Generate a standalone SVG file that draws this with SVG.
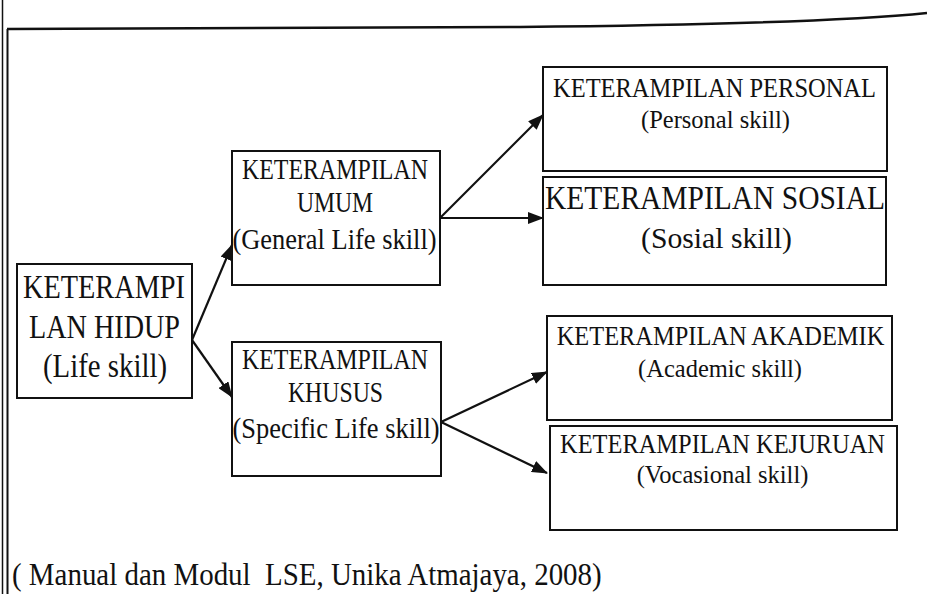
<svg xmlns="http://www.w3.org/2000/svg" width="927" height="594" viewBox="0 0 927 594">
<style>
.box{fill:#fff;stroke:#111;stroke-width:2}
.t text{font-family:'Liberation Serif','Times New Roman',serif;fill:#111;text-anchor:middle}
.con{stroke:#111;stroke-width:2.2;fill:none}
.frame{stroke:#111;fill:none}
</style>
<defs>
<marker id="arrow" viewBox="0 0 16 12" refX="15" refY="6" markerWidth="16" markerHeight="12" markerUnits="userSpaceOnUse" orient="auto">
<path d="M0,0 L16,6 L0,12 Z" fill="#111"/>
</marker>
</defs>
<rect width="927" height="594" fill="#fff"/>
<g id="frame">
<line class="frame" x1="2.5" y1="0" x2="2.5" y2="594" stroke-width="1.5"/>
<line class="frame" x1="7.5" y1="29" x2="7.5" y2="594" stroke-width="2"/>
<path class="frame" d="M7,29 L520,27 Q820,24 927,13" stroke-width="2.5"/>
</g>
<g id="connectors">
<line class="con" x1="192" y1="340" x2="232" y2="245" marker-end="url(#arrow)"/>
<line class="con" x1="192" y1="340" x2="232" y2="397" marker-end="url(#arrow)"/>
<line class="con" x1="440" y1="218" x2="543" y2="115" marker-end="url(#arrow)"/>
<line class="con" x1="440" y1="218" x2="543" y2="218" marker-end="url(#arrow)"/>
<line class="con" x1="441" y1="422" x2="547" y2="372" marker-end="url(#arrow)"/>
<line class="con" x1="441" y1="422" x2="547" y2="473" marker-end="url(#arrow)"/>
</g>
<g id="life" class="t">
<rect class="box" x="17" y="264" width="175" height="134"/>
<text font-size="33" transform="translate(104,298) scale(0.858,1)">KETERAMPI</text>
<text font-size="33" transform="translate(104.5,338) scale(0.854,1)">LAN HIDUP</text>
<text font-size="33" transform="translate(105,377) scale(0.873,1)">(Life skill)</text>
</g>
<g id="umum" class="t">
<rect class="box" x="232" y="151" width="208" height="134"/>
<text font-size="29" transform="translate(335,179) scale(0.825,1)">KETERAMPILAN</text>
<text font-size="29" transform="translate(335,212) scale(0.815,1)">UMUM</text>
<text font-size="29" transform="translate(334.5,249) scale(0.912,1)">(General Life skill)</text>
</g>
<g id="khusus" class="t">
<rect class="box" x="232" y="342" width="209" height="134"/>
<text font-size="29" transform="translate(335,369) scale(0.825,1)">KETERAMPILAN</text>
<text font-size="29" transform="translate(335.5,402) scale(0.82,1)">KHUSUS</text>
<text font-size="29" transform="translate(336,438) scale(0.912,1)">(Specific Life skill)</text>
</g>
<g id="personal" class="t">
<rect class="box" x="543" y="67" width="344" height="104"/>
<text font-size="27" transform="translate(714.5,97) scale(0.907,1)">KETERAMPILAN PERSONAL</text>
<text font-size="25" transform="translate(715.5,128) scale(0.98,1)">(Personal skill)</text>
</g>
<g id="sosial" class="t">
<rect class="box" x="543" y="177" width="343" height="108"/>
<text font-size="33" transform="translate(715,209) scale(0.894,1)">KETERAMPILAN SOSIAL</text>
<text font-size="30" transform="translate(716.5,248) scale(0.99,1)">(Sosial skill)</text>
</g>
<g id="akademik" class="t">
<rect class="box" x="547" y="316" width="345" height="104"/>
<text font-size="27" transform="translate(720.5,345) scale(0.905,1)">KETERAMPILAN AKADEMIK</text>
<text font-size="25" transform="translate(720,377) scale(0.98,1)">(Academic skill)</text>
</g>
<g id="kejuruan" class="t">
<rect class="box" x="550" y="426" width="347" height="104"/>
<text font-size="27" transform="translate(722.5,453) scale(0.905,1)">KETERAMPILAN KEJURUAN</text>
<text font-size="25" transform="translate(722.5,483) scale(0.98,1)">(Vocasional skill)</text>
</g>
<g id="caption" class="t">
<text font-size="32" style="text-anchor:start" transform="translate(12,585) scale(0.904,1)" xml:space="preserve">( Manual dan Modul  LSE, Unika Atmajaya, 2008)</text>
</g>
</svg>
